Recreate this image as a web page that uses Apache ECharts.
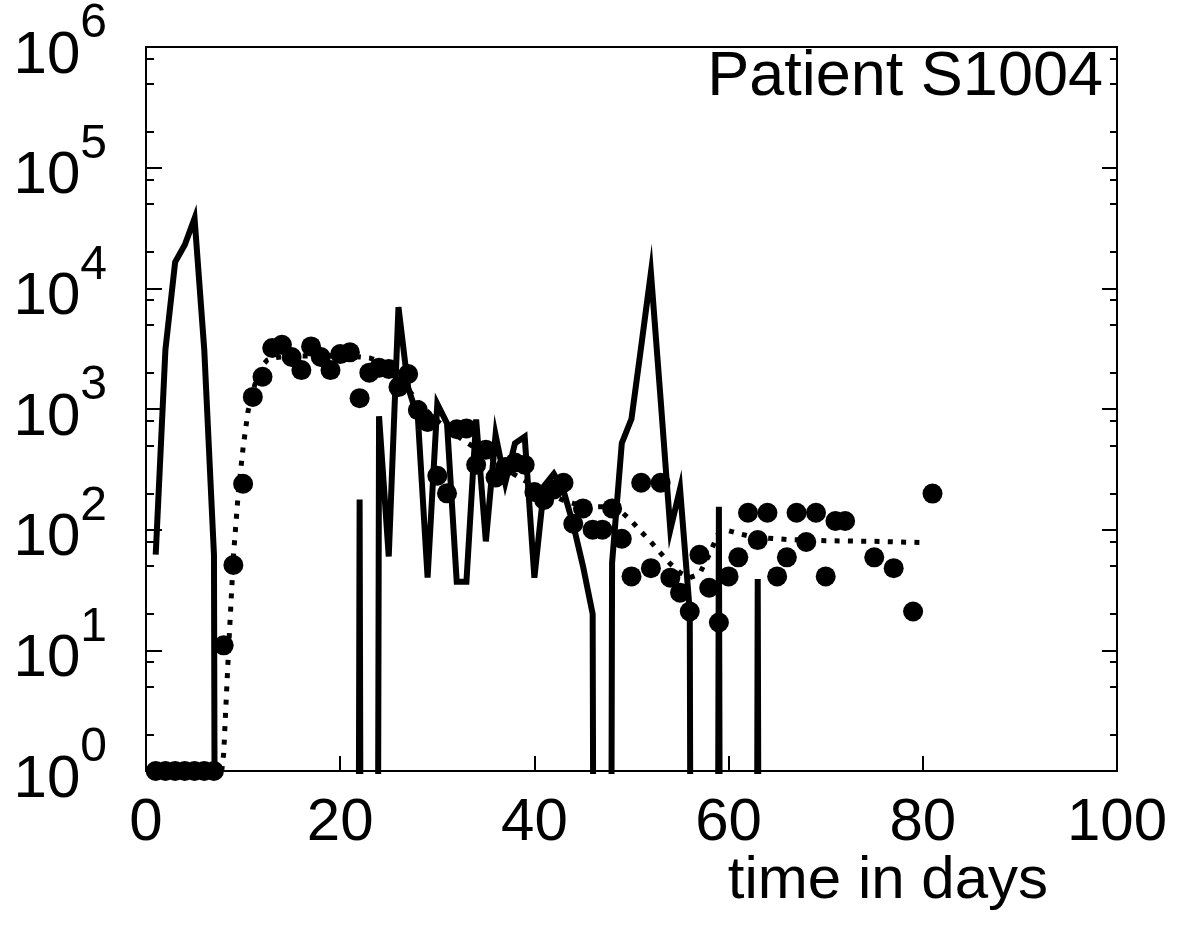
<!DOCTYPE html>
<html><head><meta charset="utf-8">
<script src="https://cdn.jsdelivr.net/npm/echarts@6/dist/echarts.min.js"></script>
<style>html,body{margin:0;padding:0;background:#fff}#c{width:1186px;height:939px}</style>
</head><body><div id="c"></div>
<script>
// ---- data ----
const Z = 1e-30; // "zero" — far below the visible log range
const titleText = 'Patient S1004';
const xAxisName = 'time in days';
const xTicks = { min: 0, max: 100, interval: 20 };
const yDecadeMin = 0, yDecadeMax = 6;            // 10^0 .. 10^6
const yMinorMantissas = [2, 5, 8];               // minor ticks at 2,5,8 x 10^n

const scatterDays = [1,2,3,4,5,6,7,8,9,10,11,12,13,14,15,16,17,18,19,20,21,22,23,24,25,26,27,28,29,30,
  31,32,33,34,35,36,37,38,39,40,41,42,43,44,45,46,47,48,49,50,51,52,53,54,55,56,57,58,59,60,
  61,62,63,64,65,66,67,68,69,70,71,72,75,77,79,81];
const scatterValues = [1,1,1,1,1,1,1,11,51,240,1260,1850,3200,3400,2700,2100,3300,2700,2100,2850,2950,1230,2000,2200,2150,1520,1950,980,780,280,
  200,680,690,345,460,270,330,360,345,205,176,215,245,112,150,100,100,150,84,41,245,48,245,40,30,21,62,33,17,41,
  59,138,82,138,41,59,138,79,138,41,118,118,59,48,21,199];

const solidDays = [1,2,3,4,5,6,7,8,9,10,11,12,13,14,15,16,17,18,19,20,21,22,23,24,25,26,27,28,29,30,
  31,32,33,34,35,36,37,38,39,40,41,42,43,44,45,46,47,48,49,50,51,52,53,54,55,56,57,58,59,60,
  61,62,63,64,65,66,67,68,69,70,71,72,73,74,75,76,77,78,79,80,81];
const solidValues = [62,3100,16500,23000,38000,3100,62,Z,Z,Z,Z,Z,Z,Z,Z,Z,Z,Z,Z,Z,Z,178,Z,870,60,7000,1500,850,40,1100,
  760,37,37,820,80,610,245,520,590,40,230,290,210,110,50,20,Z,53,520,830,3300,13500,1200,100,218,21,Z,Z,155,Z,
  Z,Z,39,Z,Z,Z,Z,Z,Z,Z,Z,Z,Z,Z,Z,Z,Z,Z,Z,Z,Z];

const dottedDays = [7.8,8,8.5,9,9.5,10,10.5,11,11.5,12,12.5,13,14,16,18,20,22,23,24,25,26,27,28,29,30,
  31,32,33,34,35,36,37,38,39,40,41,42,43,44,45,46,47,48,49,50,51,52,53,54,55,56,57,58,59,60,61,62,64,66,70,75,80.5];
const dottedValues = [1,1.4,10,60,200,480,950,1400,1900,2300,2550,2650,2700,2750,2750,2750,2700,2650,2500,2200,1800,1450,1150,950,800,
  680,600,530,470,420,370,320,285,255,230,210,190,175,165,158,155,155,150,140,118,96,79,64,52,44,40,43,62,95,98,93,89,85,83,81,80,78];

// ---- build ----
const FONT = "'Liberation Sans', Arial, Helvetica, sans-serif";
const pairs = (xs, ys) => xs.map((x, i) => [x, ys[i]]);
const minorLog = [];
for (let d = yDecadeMin; d < yDecadeMax; d++) yMinorMantissas.forEach(m => minorLog.push(d + Math.log10(m)));

const tickAxis = (pos, len, custom, labels) => ({
  type: 'value', position: pos, min: yDecadeMin, max: yDecadeMax, interval: 1,
  axisLine: { show: false }, splitLine: { show: false },
  axisTick: Object.assign({ show: true, inside: true, length: len, lineStyle: { color: '#000', width: 2 } },
    custom ? { customValues: custom } : {}),
  axisLabel: labels ? {
    show: true, margin: 39, color: '#000',
    formatter: v => '{b|10}{s|' + v + '}',
    rich: {
      b: { fontSize: 60, fontFamily: FONT, color: '#000', padding: [18, 0, 0, 0] },
      s: { fontSize: 48, fontFamily: FONT, color: '#000', padding: [0, 0, 46, 0] }
    }
  } : { show: false }
});

const chart = echarts.init(document.getElementById('c'), null, { renderer: 'canvas' });
chart.setOption({
  animation: false,
  backgroundColor: '#fff',
  title: {
    text: titleText, right: 83, top: 46, padding: 0,
    textStyle: { fontSize: 63, fontWeight: 'normal', color: '#000', fontFamily: FONT }
  },
  graphic: [{
    type: 'text', right: 138, top: 851, silent: true,
    style: { text: xAxisName, fontSize: 60, fontFamily: FONT, fill: '#000' }
  }],
  grid: { left: 146, right: 69, top: 47, bottom: 168, show: true, borderColor: '#000', borderWidth: 2,
    backgroundColor: 'transparent', containLabel: false, outerBoundsMode: 'none' },
  xAxis: {
    type: 'value', min: xTicks.min, max: xTicks.max, interval: xTicks.interval,
    axisLine: { show: false }, splitLine: { show: false },
    axisTick: { show: true, inside: true, length: 15, lineStyle: { color: '#000', width: 2 } },
    axisLabel: { fontSize: 60, fontFamily: FONT, color: '#000', margin: 22 }
  },
  yAxis: [
    { type: 'log', logBase: 10, min: 1, max: 1e6, show: false },
    tickAxis('left', 16, null, true),
    tickAxis('left', 8, minorLog, false),
    tickAxis('right', 15, null, false),
    tickAxis('right', 7, minorLog, false)
  ],
  series: [
    { type: 'line', yAxisIndex: 0, data: pairs(solidDays, solidValues), showSymbol: false, symbol: 'none',
      clip: true, lineStyle: { color: '#000', width: 6, join: 'miter', miterLimit: 10, opacity: 1 }, z: 3 },
    { type: 'line', yAxisIndex: 0, data: pairs(dottedDays, dottedValues), showSymbol: false, symbol: 'none',
      clip: true, lineStyle: { color: '#000', width: 5, type: [5, 8.3], cap: 'butt', opacity: 1 }, z: 2 },
    { type: 'scatter', yAxisIndex: 0, data: pairs(scatterDays, scatterValues), symbol: 'circle', symbolSize: 20,
      itemStyle: { color: '#000', opacity: 1 }, clip: false, z: 4 }
  ]
});
</script></body></html>
